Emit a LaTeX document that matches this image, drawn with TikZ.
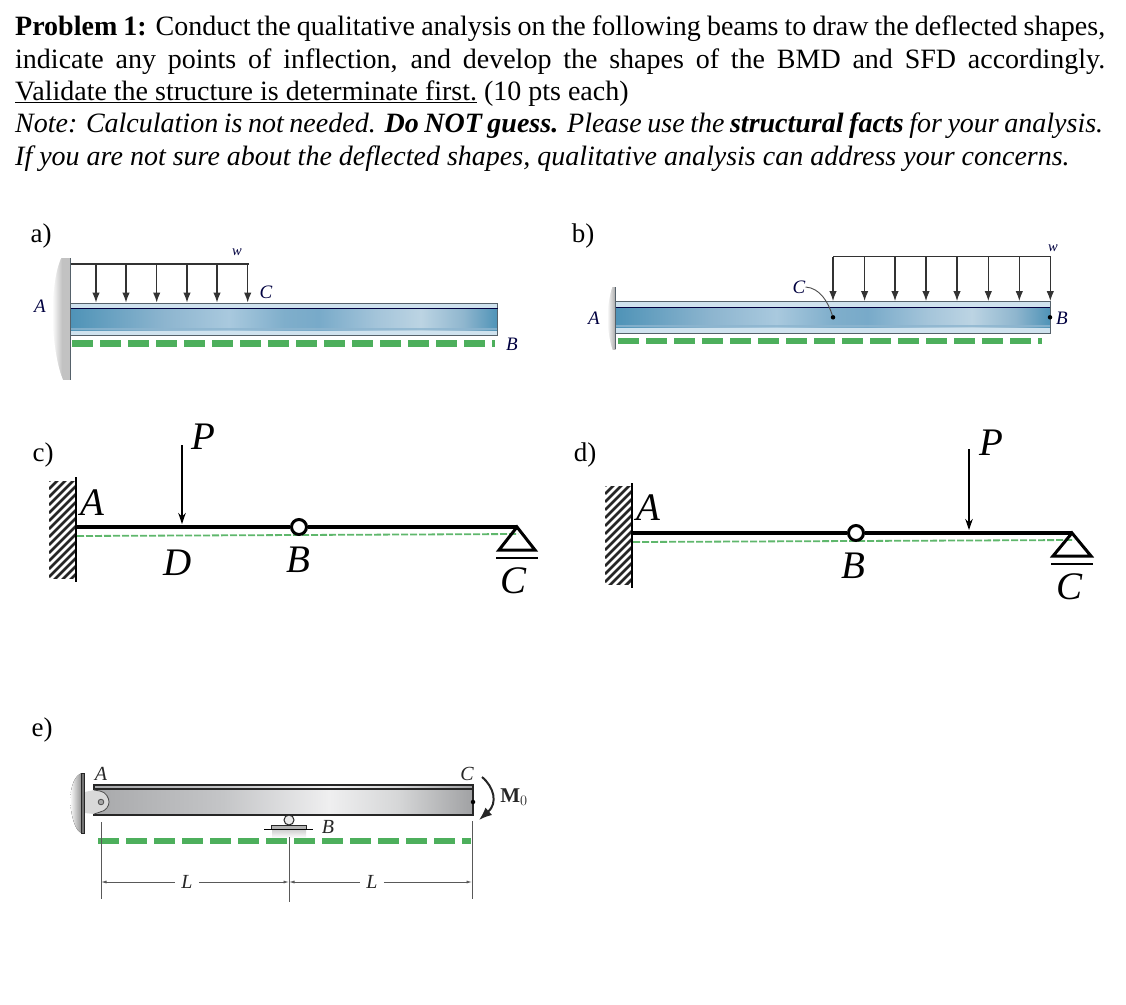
\documentclass[tikz,border=0pt]{standalone}
\usepackage{fontspec}
\setmainfont{Liberation Serif}
\usetikzlibrary{arrows.meta,calc}
\definecolor{gdash}{HTML}{4DAF5C}
\definecolor{flange}{HTML}{CFE2EE}
\definecolor{edge}{HTML}{55616A}
\definecolor{ba}{HTML}{4F93B7}\definecolor{bb}{HTML}{8DB5CF}\definecolor{bc}{HTML}{A9C9DE}\definecolor{bd}{HTML}{7FAECB}
\definecolor{be}{HTML}{78AAC9}\definecolor{bf}{HTML}{A5C5DA}\definecolor{bg}{HTML}{BCD4E3}\definecolor{bh}{HTML}{8FB6CE}
\definecolor{ga}{HTML}{A8A9AB}\definecolor{gb}{HTML}{C4C5C7}\definecolor{gc}{HTML}{EFEFF0}\definecolor{gd}{HTML}{D6D7D8}\definecolor{ge}{HTML}{A0A1A3}
\pgfdeclarehorizontalshading{bluebeam}{100bp}{
 color(0bp)=(ba);color(25bp)=(ba);color(36bp)=(bb);color(43.5bp)=(bc);color(50bp)=(bd);
 color(54bp)=(be);color(61bp)=(bf);color(66bp)=(bg);color(71bp)=(bh);color(75bp)=(ba);color(100bp)=(ba)}
\pgfdeclarehorizontalshading{graybeam}{100bp}{
 color(0bp)=(ga);color(25bp)=(ga);color(42bp)=(gb);color(56bp)=(gc);color(65bp)=(gd);color(75bp)=(ge);color(100bp)=(ge)}
\tikzset{
 x=1pt,y=-1pt,
 ttl/.style={anchor=base west,inner sep=0pt,font=\fontsize{28}{30}\selectfont},
 lab/.style={inner sep=0pt,font=\fontsize{27}{30}\selectfont},
 smlab/.style={inner sep=0pt,text=black!75!blue,font=\fontsize{14.5}{16}\selectfont\itshape},
 medlab/.style={inner sep=0pt,text=black!75!blue,font=\fontsize{19}{21}\selectfont\itshape},
 elab/.style={inner sep=0pt,text=black!85,font=\fontsize{20}{22}\selectfont\itshape},
 biglab/.style={inner sep=0pt,font=\fontsize{39}{42}\selectfont\itshape},
 greendash/.style={draw=gdash,line width=6.6pt,dash pattern=on 21pt off 7pt},
 thingreen/.style={draw=gdash!90!white,line width=1.8pt,dash pattern=on 7pt off 2pt},
 loadline/.style={draw=black!80,line width=1.1pt},
 loadarrow/.style={draw=black!80,line width=1.2pt,-{Latex[length=10pt,width=7.5pt]}},
 blackbeam/.style={draw=black,line width=3.4pt},
 hingeball/.style={circle,draw=black,line width=3pt,fill=white,minimum size=15pt,inner sep=0pt},
 pointarrow/.style={draw=black,line width=1.2pt,-{Stealth[length=11pt,width=7.5pt]}},
 dotpt/.style={circle,fill=black,minimum size=4.5pt,inner sep=0pt},
 thin dim/.style={draw=black!65,line width=0.8pt},
}
\newcommand{\hatchwall}[4]{% x0 x1 y0 y1
 \begin{scope}
 \clip (#1,#3) rectangle (#2,#4);
 \foreach \k in {0,8,...,150}{\draw[line width=2.8pt,black!85] ({#1},{#3+\k}) -- ++(30,-30);}
 \end{scope}}
\begin{document}
\begin{tikzpicture}
\useasboundingbox (0,0) rectangle (1126,1004);
\fill[white] (0,0) rectangle (1126,1004);
% title text
\node[ttl] (t1) at (15,35) {\makebox[1090pt][s]{\textbf{Problem 1:} Conduct the qualitative analysis on the following beams to draw the deflected shapes,}};
\node[ttl] (t2) at (15,68) {\makebox[1090pt][s]{indicate any points of inflection, and develop the shapes of the BMD and SFD accordingly.}};
\node[ttl] (t3) at (15,100) {\underline{Validate the structure is determinate first.} (10 pts each)};
\node[ttl] (t4) at (15,132) {\makebox[1088pt][s]{\itshape Note: Calculation is not needed. \textbf{Do NOT guess.} Please use the \textbf{structural facts} for your analysis.}};
\node[ttl] (t5) at (15,165) {\itshape If you are not sure about the deflected shapes, qualitative analysis can address your concerns.};
% --- a
\node[lab] (la) at (41,236) {a)};
\shade[left color=white,right color=black!24] (52,258) rectangle (62,380);
\fill[black!24] (62,258) rectangle (70.7,380);
\fill[white] (50,256) -- (62,256) .. controls (56,268) and (54,285) .. (52,310) .. controls (53,340) and (57,368) .. (64,382) -- (50,382) -- cycle;
\draw[edge,line width=0.9pt] (70.7,258) -- (70.7,380);
\fill[flange] (70.7,303.3) rectangle (497.7,335.5);
\shade[shading=bluebeam] (70.7,308.5) rectangle (497.7,330);
\fill[bb,opacity=.8] (70.7,328) rectangle (497.7,330);
\draw[edge,line width=1pt] (70.7,303.3) rectangle (497.7,335.5);
\draw[black!75!blue,line width=0.9pt] (70.7,308.5) -- (497.7,308.5);
\coordinate (aL) at (70.7,264); \coordinate (aR) at (249,264);
\draw[loadline] (aL) -- (aR);
\foreach \i/\xx in {1/96,2/126,3/156.7,4/187,5/217,6/247.7}{
 \coordinate (as\i) at (\xx,264); \coordinate (ae\i) at (\xx,302.5);
 \draw[loadarrow] (as\i) -- (ae\i);}
\draw[greendash] (72,343.5) -- (495,343.5);
\node[smlab] (aw) at (237,252) {w};
\node[medlab] (aC) at (266,292) {C};
\node[medlab] (aA) at (40,306) {A};
\node[medlab] (aB) at (512,344) {B};
% --- b
\node[lab] (lb) at (583,236) {b)};
\shade[left color=white,right color=black!35] (607,287) rectangle (615.7,349);
\fill[white] (605,285) -- (613,285) .. controls (610,292) and (608,305) .. (607,318) .. controls (608,330) and (610,344) .. (613,351) -- (605,351) -- cycle;
\draw[edge,line width=0.9pt] (615.7,287) -- (615.7,349);
\fill[flange] (615.7,301.7) rectangle (1050,333);
\shade[shading=bluebeam] (615.7,307) rectangle (1050,327);
\fill[bb,opacity=.8] (615.7,325) rectangle (1050,327);
\draw[edge,line width=1pt] (615.7,301.7) rectangle (1050,333);
\draw[black!75!blue,line width=0.9pt] (615.7,307) -- (1050,307);
\coordinate (bL) at (833,256.7); \coordinate (bR) at (1050.5,256.7);
\draw[loadline] (bL) -- (bR);
\foreach \i/\xx in {1/833,2/864.6,3/895,4/926,5/957,6/988.3,7/1019.3,8/1050.3}{
 \coordinate (bs\i) at (\xx,256.7); \coordinate (be\i) at (\xx,301);
 \draw[loadarrow] (bs\i) -- (be\i);}
\draw[greendash] (618,341) -- (1041.7,341);
\node[dotpt] (bdC) at (833,317.3) {};
\node[dotpt] (bdB) at (1050,317.3) {};
\node[smlab] (bw) at (1053,248) {w};
\node[medlab] (bC) at (799,287) {C};
\node[medlab] (bA) at (594,318) {A};
\node[medlab] (bB) at (1062,318) {B};
\draw[black!70,line width=0.9pt] (bC.east) .. controls (820,288) and (828,302) .. (bdC);
% --- c
\node[lab] (lc) at (43,455) {c)};
\hatchwall{49}{76}{481}{578}
\draw[black,line width=1.2pt] (76,477) -- (76,582);
\coordinate (cA) at (76,527); \coordinate (cC) at (517,527);
\coordinate (cPt) at (182,445); \coordinate (cPh) at (182,524);
\draw[thingreen] (77,536) -- (518,534);
\node[hingeball] (cB) at (299,527) {};
\draw[blackbeam] (cA) -- (cB) -- (cC);
\draw[black,line width=3pt,line join=miter] (517,527) -- (535,550) -- (499,550) -- cycle;
\draw[black,line width=2.8pt] (496,558) -- (538,558);
\draw[pointarrow] (cPt) -- (cPh);
\node[biglab] (cP) at (203,437) {P};
\node[biglab] (cLA) at (92,503) {A};
\node[biglab] (cD) at (178,563) {D};
\node[biglab] (cLB) at (298,560) {B};
\node[biglab] (cLC) at (513,581) {C};
% --- d
\node[lab] (ld) at (585,455) {d)};
\hatchwall{605}{632}{486}{584}
\draw[black,line width=1.2pt] (632,483) -- (632,588);
\coordinate (dA) at (632,533); \coordinate (dC) at (1072,533);
\coordinate (dPt) at (969,449); \coordinate (dPh) at (969,530);
\draw[thingreen] (633,542) -- (1074,540);
\node[hingeball] (dB) at (856,533) {};
\draw[blackbeam] (dA) -- (dB) -- (dC);
\draw[black,line width=3pt,line join=miter] (1072,533) -- (1091,556) -- (1053,556) -- cycle;
\draw[black,line width=2.8pt] (1051,564) -- (1093,564);
\draw[pointarrow] (dPt) -- (dPh);
\node[biglab] (dP) at (991,443) {P};
\node[biglab] (dLA) at (648,508) {A};
\node[biglab] (dLB) at (853,566) {B};
\node[biglab] (dLC) at (1069,587) {C};
% --- e
\node[lab] (le) at (42,730) {e)};
\fill[left color=white,right color=black!45] (70,800) .. controls (71,785) and (75,775) .. (82,773) -- (82,833) .. controls (75,832) and (71,815) .. (70,800) -- cycle;
\fill[black!55] (81.5,773) rectangle (84.5,833);
\draw[black!85,line width=0.8pt] (81.5,773) rectangle (84.5,833);
\shade[shading=graybeam] (94,785) rectangle (473,815);
\draw[black!85,line width=1.3pt] (94,785) rectangle (473,815);
\draw[black!85,line width=1.3pt] (94,789) -- (473,789);
\fill[black!15] (85,792) -- (94,790) -- (100,791) .. controls (106,792) and (109,798) .. (109,802) .. controls (109,806) and (106,811) .. (100,812) -- (94,814) -- (85,813) -- cycle;
\draw[black!70,line width=0.8pt] (94,790) -- (100,791) .. controls (106,792) and (109,798) .. (109,802) .. controls (109,806) and (106,811) .. (100,812) -- (94,814);
\draw[black!70,fill=black!35,line width=0.8pt] (101,802) circle (2.8);
\shade[top color=black!18,bottom color=white] (272,830) rectangle (306,838);
\draw[black!85,fill=black!8,line width=1pt] (289,820) circle (5);
\draw[black!85,fill=black!30,line width=0.8pt] (271,825) rectangle (306,829);
\draw[black,line width=0.8pt] (264,829) -- (313,829);
\node[dotpt] (eCd) at (473,802) {};
\draw[greendash] (98,841) -- (471,841);
\coordinate (ed1a) at (101,822); \coordinate (ed1b) at (101,899);
\coordinate (ed2a) at (289,837); \coordinate (ed2b) at (289,902);
\coordinate (ed3a) at (472,821); \coordinate (ed3b) at (472,899);
\draw[thin dim] (ed1a) -- (ed1b);
\draw[thin dim] (ed2a) -- (ed2b);
\draw[thin dim] (ed3a) -- (ed3b);
\node[elab,inner sep=6pt,fill=white] (eL1) at (187,882) {L};
\node[elab,inner sep=6pt,fill=white] (eL2) at (372,882) {L};
\coordinate (m1) at (101,882); \coordinate (m2) at (289,882); \coordinate (m3) at (472,882);
\draw[thin dim,{Latex[length=5.5pt,width=3pt]}-] (m1) -- (eL1);
\draw[thin dim,-{Latex[length=5.5pt,width=3pt]}] (eL1) -- (m2);
\draw[thin dim,{Latex[length=5.5pt,width=3pt]}-] (m2) -- (eL2);
\draw[thin dim,-{Latex[length=5.5pt,width=3pt]}] (eL2) -- (m3);
\coordinate (ms) at (482,777); \coordinate (me) at (479,820);
\draw[black!85,line width=2pt,-{Latex[length=13pt,width=10pt]}] (ms) .. controls (494,787) and (498,803) .. (me);
\node[elab] (eA) at (101,774) {A};
\node[elab] (eC) at (467,774) {C};
\node[elab] (eB) at (328,827) {B};
\node[inner sep=0pt,text=black!85,font=\fontsize{21}{23}\selectfont] (eM) at (514,797) {$\mathbf{M}_{0}$};
\end{tikzpicture}
\end{document}
